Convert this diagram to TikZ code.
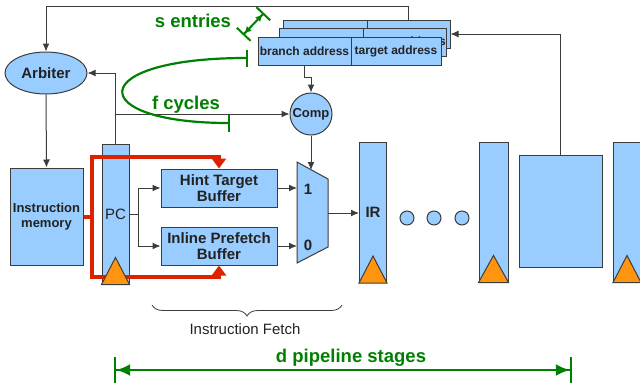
\documentclass[tikz,border=0pt]{standalone}
\usepackage{fontspec}
\setmainfont{Liberation Sans}
\usetikzlibrary{arrows.meta,shapes.geometric,decorations.pathreplacing}

\definecolor{boxblue}{RGB}{153,204,255}
\definecolor{edge}{RGB}{60,60,60}
\definecolor{clkorange}{RGB}{255,149,14}
\definecolor{hotred}{RGB}{221,34,0}
\definecolor{dimgreen}{RGB}{0,128,0}
\definecolor{ink}{RGB}{34,34,34}

\begin{document}
\begin{tikzpicture}[x=1pt, y=-1pt,
  b/.style={draw=edge, line width=1pt, fill=boxblue, inner sep=0pt, align=center, text=ink, font=\bfseries\fontsize{15}{16}\selectfont},
  r/.style={b, minimum width=27pt, minimum height=140pt},
  t/.style={b, minimum height=28pt, font=\bfseries\fontsize{12}{14}\selectfont},
  clk/.style={draw=edge, line width=1pt, fill=clkorange},
  a/.style={draw=edge, line width=1pt, -{Latex[length=8pt,width=7pt]}},
  hot/.style={draw=hotred, line width=4pt, -{Triangle[length=10pt,width=14pt]}},
  g/.style={draw=dimgreen, line width=2.2pt},
  gt/.style={text=dimgreen, anchor=base, font=\bfseries\fontsize{18.5}{20}\selectfont}]
  \useasboundingbox (0,0) rectangle (640,386);

  % tag table (s copies)
  \node[t, minimum width=84pt] (b3) at (325,34) {};
  \node[t, minimum width=83pt] (t3) at (408.5,34) {};
  \node[t, minimum width=84pt] (b2) at (321,42.5) {};
  \node[t, minimum width=83pt] (t2) at (404.5,42.5) {target address};
  \node[t, minimum width=93pt] (b1) at (304.5,51) {branch address};
  \node[t, minimum width=90pt] (t1) at (396,51) {target address};

  \node[b, ellipse, minimum width=82pt, minimum height=42pt] (arb) at (46,73) {Arbiter};
  \node[b, circle, minimum size=42pt, font=\bfseries\fontsize{13}{15}\selectfont] (comp) at (311,114) {Comp};
  \node[b, minimum width=73pt, minimum height=97pt, font=\bfseries\fontsize{13}{15}\selectfont] (imem) at (46.5,216.5) {Instruction\\memory};

  % pipeline registers
  \node[r, font=\fontsize{15}{16}\selectfont] (pc) at (115.5,214) {PC};
  \node[r] (ir) at (373,212.5) {IR};
  \node[r, minimum width=29pt] (r3) at (493.5,212) {};
  \node[b, minimum width=83pt, minimum height=112pt] (ex) at (560.5,211) {};
  \node[r] (r4) at (627,212) {};

  \node[b, minimum width=116pt, minimum height=38pt] (htb) at (219,188) {Hint Target\\Buffer};
  \node[b, minimum width=116pt, minimum height=38pt] (ipb) at (219,246) {Inline Prefetch\\Buffer};

  % mux
  \draw[draw=edge, line width=1pt, fill=boxblue] (297,162) -- (328,179) -- (328,247) -- (297,263) -- cycle;
  \node[text=ink, font=\bfseries\fontsize{15}{16}\selectfont] (sel1) at (308,189) {1};
  \node[text=ink, font=\bfseries\fontsize{15}{16}\selectfont] (sel0) at (308,245) {0};
  \coordinate (m1) at (297,188);
  \coordinate (m0) at (297,246);
  \coordinate (ms) at (311,170);
  \coordinate (mo) at (328,213);

  \foreach \x in {407,434,462}
    \node[b, circle, minimum size=14pt] (d\x) at (\x,218) {};

  \draw[a] (t3.north) -- ++(0,-13) -| (arb.north);
  \draw[a] (arb.south) -- (imem.north);
  \draw[a] (pc.north) |- (arb.east);
  \draw[a] (pc.north |- comp) -- (comp.west);
  \draw[a] (b1.south) -- ++(0,12) -| (comp.north);
  \draw[a] (comp.south) -- (ms);
  \draw[a] (pc.east) -- ++(9,0) |- (htb.west);
  \draw[a] (pc.east) -- ++(9,0) |- (ipb.west);
  \draw[a] (htb.east) -- (m1);
  \draw[a] (ipb.east) -- (m0);
  \draw[a] (mo) -- (mo -| ir.west);
  \draw[a] (ex.north) |- (t3.east);

  \draw[hot] (imem.east) -- ++(8,0) |- ([yshift=12pt]htb.north) -- (htb.north);
  \draw[hot] (imem.east) -- ++(8,0) |- ([yshift=-11pt]ipb.south) -- (ipb.south);

  \foreach \n in {pc,ir,r3,r4}
    \draw[clk] (\n.south west) -- (\n.south east) -- ([yshift=27pt]\n.south) -- cycle;

  % sizes
  \coordinate (s0) at (243,35);
  \coordinate (s1) at (264,13);
  \draw[g, line width=2pt, {Bar[width=19pt]Latex[length=7pt,width=7pt]}-{Latex[length=7pt,width=7pt]Bar[width=19pt]}] (s0) -- (s1);
  \node[gt] (sent) at (193,27) {s entries};

  \coordinate (f0) at (248,58);
  \coordinate (f1) at (230,123);
  \draw[g, {Bar[width=17pt]}-{Bar[width=17pt]}] (f0) .. controls (84,58) and (84,123) .. (f1);
  \node[gt] (fcyc) at (186,109) {f cycles};

  \coordinate (bl) at (152,305);
  \coordinate (br) at (342,305);
  \draw[draw=edge, line width=0.8pt, decorate, decoration={brace, amplitude=11pt, mirror}] (bl) -- (br);
  \node[text=ink, anchor=base, font=\fontsize{15}{17}\selectfont] (fetch) at (245,334) {Instruction Fetch};

  \coordinate (dl) at (114,370);
  \coordinate (dr) at (572,370);
  \draw[g, {Bar[width=26pt]Latex[length=14pt,width=12pt]}-{Latex[length=14pt,width=12pt]Bar[width=26pt]}] (dl) -- (dr);
  \node[gt] (dpipe) at (351,362) {d pipeline stages};
\end{tikzpicture}
\end{document}
